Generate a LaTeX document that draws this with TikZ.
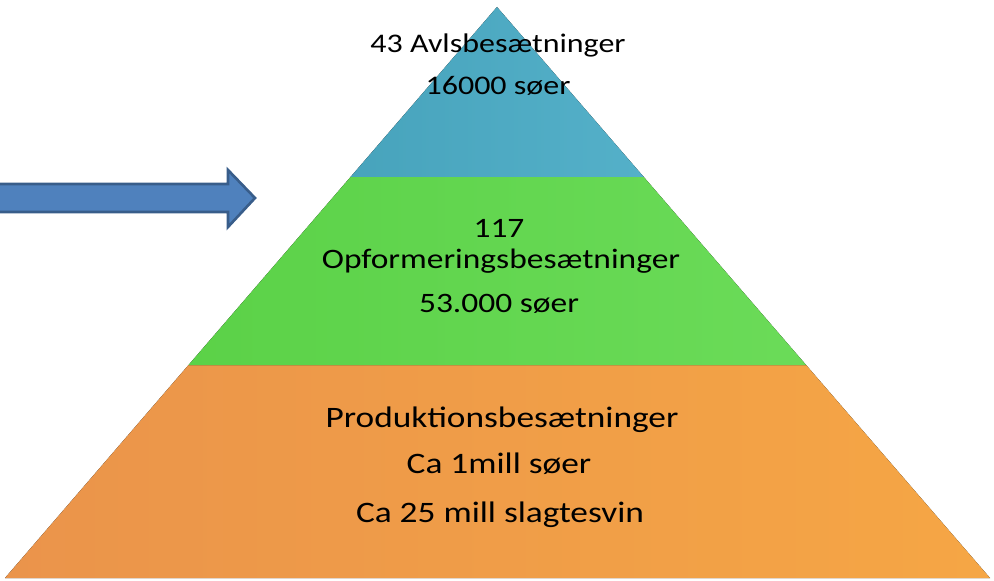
\documentclass[tikz,border=0pt]{standalone}
\usepackage{fontspec}
\setmainfont{Carlito}
\newfontfamily\widefont[FakeStretch=1.19]{Carlito}
\usepackage{tikz}
\usetikzlibrary{calc}

\definecolor{avlblue}{HTML}{4BACC6}
\definecolor{opfgreen}{HTML}{5ED84A}
\definecolor{prodorange}{HTML}{F49A4E}
\definecolor{pilblue}{HTML}{4F81BD}
\definecolor{piledge}{HTML}{385D8A}

\tikzset{
    lagtext/.style={anchor=base, font=\widefont\fontsize{#1}{#1}\selectfont},
    lagtext/.default=16
}

\begin{document}
\begin{tikzpicture}[x=0.02cm,y=-0.02cm]
    \useasboundingbox (0,0) rectangle (994,581);

    \coordinate (top) at (497,7);
    \coordinate (vb) at (5,578);
    \coordinate (hb) at (990,578);
    \coordinate (v1) at ($(top)!0.2977!(vb)$);
    \coordinate (h1) at ($(top)!0.2977!(hb)$);
    \coordinate (v2) at ($(top)!0.627!(vb)$);
    \coordinate (h2) at ($(top)!0.627!(hb)$);

    % pyramide
    \fill[left color=prodorange!96!black, right color=prodorange!88!yellow] (v2) -- (h2) -- (hb) -- (vb) -- cycle;
    \fill[left color=opfgreen!97!black, right color=opfgreen!92!white] (v1) -- (h1) -- (h2) -- (v2) -- cycle;
    \fill[left color=avlblue!95!black, right color=avlblue!95!white] (top) -- (h1) -- (v1) -- cycle;

    % pil
    \filldraw[fill=pilblue, draw=piledge, line width=1.5pt]
        (-5,184) -- (228,184) -- (228,170) -- (255,198) -- (228,227) -- (228,212) -- (-5,212) -- cycle;

    \node[lagtext=15.3] (avl1) at (498,53) {43 Avlsbesætninger};
    \node[lagtext=15.3] (avl2) at (498,95) {16000 søer};

    \node[lagtext] (opf1) at (499,237) {117};
    \node[lagtext] (opf2) at (501,268) {Opformeringsbesætninger};
    \node[lagtext] (opf3) at (499,312) {53.000 søer};

    \node[lagtext=16.9] (prod1) at (502,427) {Produktionsbesætninger};
    \node[lagtext=16.9] (prod2) at (499,473) {Ca 1mill søer};
    \node[lagtext=16.9] (prod3) at (500,522) {Ca 25 mill slagtesvin};
\end{tikzpicture}
\end{document}
